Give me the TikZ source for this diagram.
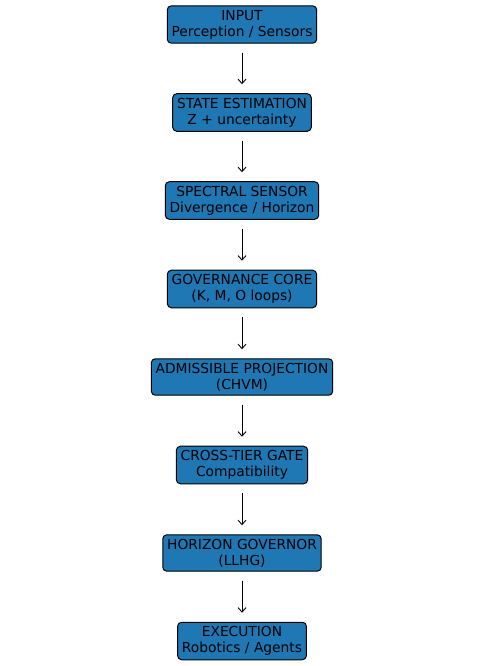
\documentclass[tikz,border=0pt]{standalone}
\usepackage{fontspec}
\setmainfont{DejaVu Sans}
\usetikzlibrary{arrows.meta}
\definecolor{mplblue}{HTML}{1F77B4}
\tikzset{
  stagebox/.style={draw=black, line width=1pt, fill=mplblue, rounded corners=4pt,
    align=center, inner xsep=4.3pt, inner ysep=4.2pt,
    font=\fontsize{13.8}{16}\selectfont, text=black},
  flowarrow/.style={-{Straight Barb[length=4.5pt,width=8pt]}, line width=0.9pt,
    shorten <=9pt, shorten >=9pt}
}
\begin{document}
\begin{tikzpicture}[x=1pt,y=1pt]
\useasboundingbox (0,0) rectangle (484,-666);
\node[stagebox] (n1) at (242,-24.5) {INPUT\\Perception / Sensors};
\node[stagebox] (n2) at (242,-112.5) {STATE ESTIMATION\\Z + uncertainty};
\node[stagebox] (n3) at (242,-200.5) {SPECTRAL SENSOR\\Divergence / Horizon};
\node[stagebox] (n4) at (242,-289) {GOVERNANCE CORE\\(K, M, O loops)};
\node[stagebox] (n5) at (242,-377) {ADMISSIBLE PROJECTION\\(CHVM)};
\node[stagebox] (n6) at (242,-465) {CROSS-TIER GATE\\Compatibility};
\node[stagebox] (n7) at (242,-553) {HORIZON GOVERNOR\\(LLHG)};
\node[stagebox] (n8) at (242,-641) {EXECUTION\\Robotics / Agents};
\foreach \a/\b in {n1/n2,n2/n3,n3/n4,n4/n5,n5/n6,n6/n7,n7/n8}
  \draw[flowarrow] (\a) -- (\b);
\end{tikzpicture}
\end{document}
